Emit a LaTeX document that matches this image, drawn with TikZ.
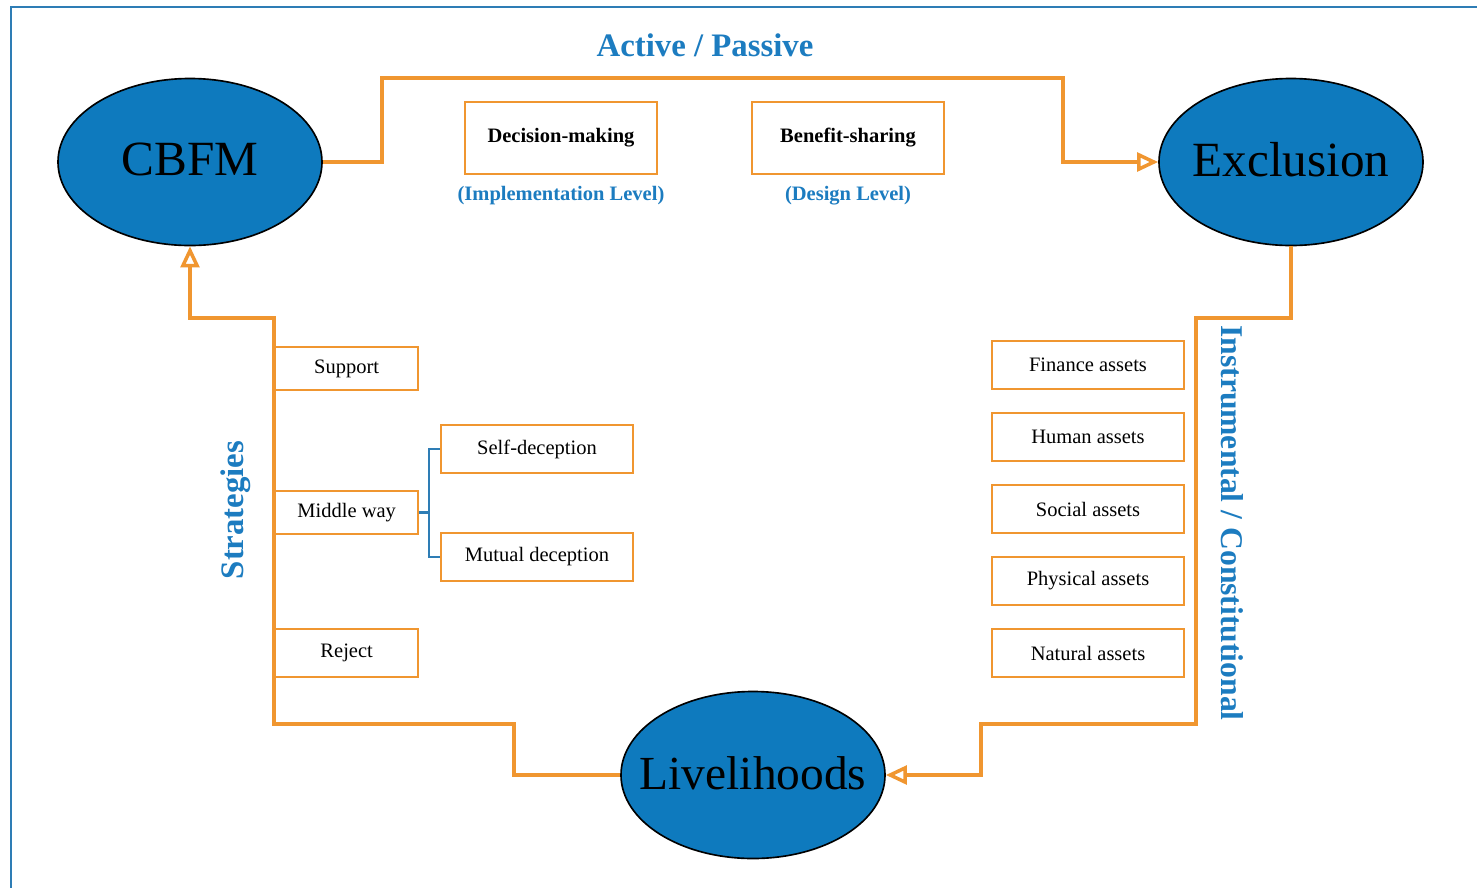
\documentclass[tikz,border=0pt]{standalone}
\usepackage{fontspec}
\setmainfont{Liberation Serif}
\usetikzlibrary{arrows.meta,shapes.geometric}
\definecolor{ellblue}{RGB}{14,122,190}
\definecolor{txtblue}{RGB}{28,124,192}
\definecolor{frameblue}{RGB}{46,125,181}
\definecolor{orng}{RGB}{240,150,48}
\tikzset{
  bigell/.style={ellipse, draw=black, line width=1.4pt, fill=ellblue, minimum width=7.92cm, minimum height=5.01cm, inner sep=0pt, font=\fontsize{42}{48}\selectfont},
  obox/.style={draw=orng, line width=2pt, fill=white, inner sep=0pt, font=\fontsize{17.5}{20}\selectfont},
  lbox/.style={obox, minimum width=4.29cm, minimum height=1.32cm},
  wbox/.style={obox, minimum width=5.76cm, minimum height=1.44cm},
  tbox/.style={obox, minimum width=5.76cm, minimum height=2.16cm, font=\fontsize{17.5}{20}\selectfont\bfseries},
  conn/.style={draw=orng, line width=3.2pt, -{Triangle[open, length=18pt, width=16pt, line width=3pt]}},
  bracket/.style={draw=frameblue, line width=1.8pt},
  bluelabel/.style={text=txtblue, font=\fontsize{28}{32}\selectfont\bfseries, inner sep=0pt},
  sublabel/.style={text=txtblue, font=\fontsize{17.5}{20}\selectfont\bfseries, inner sep=0pt}
}
\newcommand{\zw}[1]{\makebox[0pt]{\raisebox{4pt}{#1}}}
\begin{document}
\begin{tikzpicture}[x=0.03cm, y=-0.03cm]
\useasboundingbox (0,0) rectangle (1477,888);
\fill[white] (0,0) rectangle (1477,888);
% frame
\draw[frameblue, line width=1.8pt] (1477,7) -- (11,7) -- (11,888);

% ellipses
\node[bigell] (cbfm) at (190,162) {\zw{CBFM}};
\node[bigell] (excl) at (1291,162) {\zw{Exclusion}};
\node[bigell, font=\fontsize{40.5}{46}\selectfont] (live) at (753,775) {\zw{Livelihoods}};

% corner coordinates
\coordinate (t1) at (382,78);
\coordinate (t2) at (1063,78);
\coordinate (r1) at (1196,318);
\coordinate (r2) at (1196,724);
\coordinate (r3) at (981,724);
\coordinate (l1) at (514,724);
\coordinate (l2) at (274,724);
\coordinate (l3) at (274,318);

% connectors
\draw[conn] (cbfm.east) -| (t1) -- (t2) |- (excl.west);
\draw[conn] (excl.south) |- (r1) -- (r2) -- (r3) |- (live.east);
\draw[conn] (live.west) -| (l1) -- (l2) -- (l3) -| (cbfm.south);

% top labels
\node[bluelabel] (ap) at (705,45) {Active / Passive};
\node[tbox] (dm) at (561,138) {Decision-making};
\node[tbox] (bs) at (848,138) {Benefit-sharing};
\node[sublabel] (impl) at (561,196) {(Implementation Level)};
\node[sublabel] (des) at (848,196) {(Design Level)};

% left strategies
\node[lbox, anchor=west, minimum height=1.29cm] (sup) at (274,368.5) {Support};
\node[lbox, anchor=west, minimum height=1.29cm] (mid) at (274,512.5) {Middle way};
\node[lbox, anchor=west, minimum height=1.44cm] (rej) at (274,653) {Reject};
\node[wbox] (self) at (537,449) {Self-deception};
\node[wbox] (mut) at (537,557) {Mutual deception};
\coordinate (b0) at (429,512.5);
\draw[bracket] (mid.east) -- (b0);
\draw[bracket] (self.west) -| (b0) |- (mut.west);
\node[bluelabel, rotate=90] (strat) at (236,510) {Strategies};

% right assets
\node[wbox] (fin) at (1088,365) {Finance assets};
\node[wbox] (hum) at (1088,437) {Human assets};
\node[wbox] (soc) at (1088,509) {Social assets};
\node[wbox] (phy) at (1088,581) {Physical assets};
\node[wbox] (nat) at (1088,653) {Natural assets};
\node[bluelabel, rotate=-90, font=\fontsize{27}{32}\selectfont\bfseries] (inst) at (1232,523) {Instrumental / Constitutional};
\end{tikzpicture}
\end{document}
